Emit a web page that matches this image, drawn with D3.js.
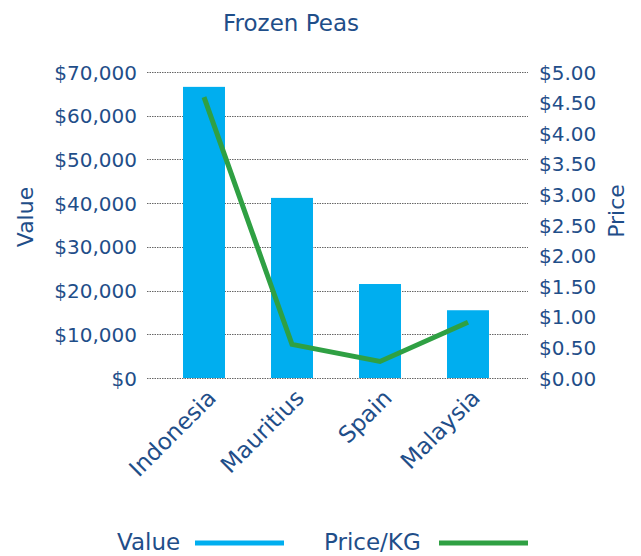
<!DOCTYPE html>
<html>
<head>
<meta charset="utf-8">
<script src="https://cdn.jsdelivr.net/npm/d3@7"></script>
<style>
  body { margin: 0; background: #fff; }
  svg text { font-family: "DejaVu Sans", sans-serif; fill: #1f4e89; }
</style>
</head>
<body>
<svg id="chart"></svg>
<script>
const countries = ["Indonesia", "Mauritius", "Spain", "Malaysia"];
const values = [66600, 41200, 21500, 15500];
const prices = [4.59, 0.55, 0.27, 0.91];
const valueTicks = [0, 10000, 20000, 30000, 40000, 50000, 60000, 70000];
const priceTicks = [0, 0.5, 1, 1.5, 2, 2.5, 3, 3.5, 4, 4.5, 5];

const width = 641, height = 556;
const plot = { left: 147, right: 528, top: 72, bottom: 378 };
const blue = "#00aeef", green = "#2fa043", txt = "#1f4e89";

const svg = d3.select("#chart").attr("width", width).attr("height", height);

const x = d3.scaleBand().domain(countries).range([160, 512]).paddingInner(0.523).paddingOuter(0.2615);
const yVal = d3.scaleLinear().domain([0, 70000]).range([plot.bottom, plot.top]);
const yPrice = d3.scaleLinear().domain([0, 5]).range([plot.bottom, plot.top]);

// gridlines
svg.append("g")
  .selectAll("line")
  .data(valueTicks)
  .join("line")
  .attr("x1", plot.left).attr("x2", plot.right)
  .attr("y1", d => Math.round(yVal(d)) + 0.5).attr("y2", d => Math.round(yVal(d)) + 0.5)
  .attr("stroke", "#666")
  .attr("stroke-dasharray", "1.5,1");

// left axis
const leftAxis = svg.append("g")
  .attr("transform", `translate(${plot.left - 10},0)`)
  .call(d3.axisLeft(yVal).tickValues(valueTicks).tickSize(0).tickPadding(0)
    .tickFormat(d => "$" + d3.format(",")(d)));
leftAxis.select(".domain").remove();
leftAxis.selectAll("text").attr("font-size", 20).attr("fill", txt).attr("dy", "0.35em");

// right axis
const rightAxis = svg.append("g")
  .attr("transform", `translate(${plot.right + 11},0)`)
  .call(d3.axisRight(yPrice).tickValues(priceTicks).tickSize(0).tickPadding(0)
    .tickFormat(d => "$" + d3.format(".2f")(d)));
rightAxis.select(".domain").remove();
rightAxis.selectAll("text").attr("font-size", 20).attr("fill", txt).attr("dy", "0.35em");

// bars
svg.append("g")
  .selectAll("rect")
  .data(countries)
  .join("rect")
  .attr("x", d => x(d))
  .attr("width", x.bandwidth())
  .attr("y", (d, i) => yVal(values[i]))
  .attr("height", (d, i) => yVal(0) - yVal(values[i]))
  .attr("fill", blue);

// price line
const line = d3.line()
  .x((d, i) => x(countries[i]) + x.bandwidth() / 2)
  .y(d => yPrice(d));
svg.append("path")
  .datum(prices)
  .attr("d", line)
  .attr("fill", "none")
  .attr("stroke", green)
  .attr("stroke-width", 5);

// category labels
svg.append("g")
  .selectAll("text")
  .data(countries)
  .join("text")
  .attr("transform", d => `translate(${x(d) + x.bandwidth() / 2 + 2},${plot.bottom + 10}) rotate(-45)`)
  .attr("text-anchor", "end")
  .attr("dy", "0.7em")
  .attr("font-size", 23)
  .text(d => d);

// title
svg.append("text")
  .attr("x", 291).attr("y", 31)
  .attr("text-anchor", "middle")
  .attr("font-size", 23)
  .text("Frozen Peas");

// axis titles
svg.append("text")
  .attr("transform", "translate(33,217) rotate(-90)")
  .attr("text-anchor", "middle")
  .attr("font-size", 22)
  .text("Value");
svg.append("text")
  .attr("transform", "translate(624,211) rotate(-90)")
  .attr("text-anchor", "middle")
  .attr("font-size", 22)
  .text("Price");

// legend
const legend = [
  { label: "Value", color: blue, tx: 117, lx: 195 },
  { label: "Price/KG", color: green, tx: 324, lx: 439 }
];
const lg = svg.append("g").selectAll("g").data(legend).join("g");
lg.append("text")
  .attr("x", d => d.tx).attr("y", 550)
  .attr("font-size", 23)
  .text(d => d.label);
lg.append("line")
  .attr("x1", d => d.lx).attr("x2", d => d.lx + 89)
  .attr("y1", 543).attr("y2", 543)
  .attr("stroke", d => d.color)
  .attr("stroke-width", 5);
</script>
</body>
</html>
